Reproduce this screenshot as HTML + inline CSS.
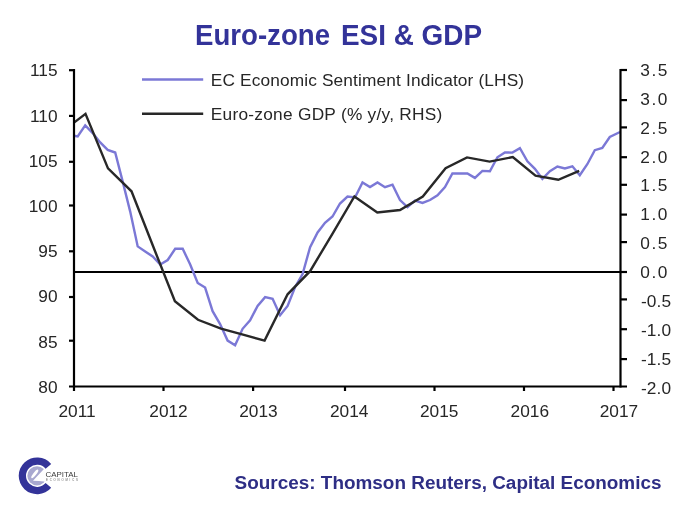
<!DOCTYPE html>
<html><head><meta charset="utf-8"><title>Euro-zone ESI &amp; GDP</title>
<style>
html,body{margin:0;padding:0;background:#fff;}
body{width:680px;height:510px;overflow:hidden;position:relative;}
svg{display:block;position:absolute;left:0;top:0;}
text{font-family:'Liberation Sans', Arial, sans-serif;}
.ax{font-size:17.3px;fill:#262626;}
</style></head><body>
<svg width="680" height="510" viewBox="0 0 680 510">
<text x="195" y="45.1" font-size="29" font-weight="bold" fill="#333399" textLength="135" lengthAdjust="spacingAndGlyphs">Euro-zone</text>
<text x="341" y="45.1" font-size="29" font-weight="bold" fill="#333399" textLength="141" lengthAdjust="spacingAndGlyphs">ESI &amp; GDP</text>
<text class="ax" x="57.6" y="76.4" text-anchor="end">115</text>
<text class="ax" x="57.6" y="121.6" text-anchor="end">110</text>
<text class="ax" x="57.6" y="166.8" text-anchor="end">105</text>
<text class="ax" x="57.6" y="212.0" text-anchor="end">100</text>
<text class="ax" x="57.6" y="257.1" text-anchor="end">95</text>
<text class="ax" x="57.6" y="302.3" text-anchor="end">90</text>
<text class="ax" x="57.6" y="347.5" text-anchor="end">85</text>
<text class="ax" x="57.6" y="392.7" text-anchor="end">80</text>
<text class="ax" x="640.2" y="76.4" textLength="27.2" lengthAdjust="spacing">3.5</text>
<text class="ax" x="640.2" y="105.2" textLength="27.2" lengthAdjust="spacing">3.0</text>
<text class="ax" x="640.2" y="133.9" textLength="27.2" lengthAdjust="spacing">2.5</text>
<text class="ax" x="640.2" y="162.7" textLength="27.2" lengthAdjust="spacing">2.0</text>
<text class="ax" x="640.2" y="191.4" textLength="27.2" lengthAdjust="spacing">1.5</text>
<text class="ax" x="640.2" y="220.2" textLength="27.2" lengthAdjust="spacing">1.0</text>
<text class="ax" x="640.2" y="248.9" textLength="27.2" lengthAdjust="spacing">0.5</text>
<text class="ax" x="640.2" y="277.7" textLength="27.2" lengthAdjust="spacing">0.0</text>
<text class="ax" x="641" y="307.3" textLength="30" lengthAdjust="spacing">-0.5</text>
<text class="ax" x="641" y="336.1" textLength="30" lengthAdjust="spacing">-1.0</text>
<text class="ax" x="641" y="364.8" textLength="30" lengthAdjust="spacing">-1.5</text>
<text class="ax" x="641" y="393.6" textLength="30" lengthAdjust="spacing">-2.0</text>
<text class="ax" x="77.0" y="416.9" text-anchor="middle">2011</text>
<text class="ax" x="168.5" y="416.9" text-anchor="middle">2012</text>
<text class="ax" x="258.4" y="416.9" text-anchor="middle">2013</text>
<text class="ax" x="349.2" y="416.9" text-anchor="middle">2014</text>
<text class="ax" x="439.2" y="416.9" text-anchor="middle">2015</text>
<text class="ax" x="529.8" y="416.9" text-anchor="middle">2016</text>
<text class="ax" x="618.9" y="416.9" text-anchor="middle">2017</text>
<line x1="142" y1="79.5" x2="203.2" y2="79.5" stroke="#7b78d6" stroke-width="2.4"/>
<line x1="142" y1="113.8" x2="203.2" y2="113.8" stroke="#282828" stroke-width="2.4"/>
<text class="ax" x="210.8" y="85.6" textLength="313.3" lengthAdjust="spacing">EC Economic Sentiment Indicator (LHS)</text>
<text class="ax" x="210.8" y="119.7" textLength="231.5" lengthAdjust="spacing">Euro-zone GDP (% y/y, RHS)</text>
<line x1="74" y1="272" x2="620.5" y2="272" stroke="#000" stroke-width="2.2"/>
<polyline points="74.0,135.8 77.7,136.5 85.2,125.4 92.7,133.1 100.2,142.4 107.7,149.9 115.2,152.5 122.7,181.6 130.2,211.6 137.7,246.4 145.2,251.5 152.7,256.5 160.2,264.5 167.7,260.0 175.2,248.8 182.7,248.8 190.2,264.5 197.7,282.9 205.1,287.6 212.6,311.2 220.1,324.1 227.6,340.6 235.1,345.3 242.6,328.8 250.1,320.3 257.6,305.9 265.1,297.1 272.6,298.8 280.1,315.3 287.6,305.9 295.1,287.0 302.6,274.0 310.1,247.1 317.6,232.5 325.0,222.8 332.5,216.5 340.0,203.5 347.5,196.5 355.0,197.5 362.5,182.4 370.0,187.1 377.5,182.4 385.0,187.2 392.5,184.7 400.0,200.0 407.5,207.1 415.0,200.6 422.5,202.9 430.0,200.0 437.5,195.3 445.0,187.1 452.4,173.5 459.9,173.5 467.4,173.5 474.9,177.9 482.4,170.9 489.9,171.2 497.4,157.3 504.9,152.4 512.4,152.6 519.9,148.2 527.4,161.3 534.9,168.8 542.4,178.8 549.9,171.2 557.4,166.5 564.9,168.5 572.4,166.3 579.8,175.2 587.3,164.2 594.8,150.2 602.3,148.0 609.8,137.0 620.0,132.0" fill="none" stroke="#7b78d6" stroke-width="2.4" stroke-linejoin="miter"/>
<polyline points="74.0,122.6 85.5,113.8 108.0,168.4 131.5,191.3 153.5,247.3 174.9,301.3 198.0,319.8 221.0,328.6 243.0,334.6 264.6,340.6 287.6,294.3 310.1,271.2 332.4,233.8 354.4,196.4 377.3,212.4 400.0,210.0 422.8,196.5 445.6,168.2 467.0,157.4 489.6,161.6 512.8,157.1 535.5,175.6 558.3,179.8 579.2,170.8" fill="none" stroke="#282828" stroke-width="2.4" stroke-linejoin="miter"/>
<g stroke="#000" stroke-width="2.2" fill="none">
<line x1="74" y1="69.1" x2="74" y2="391"/>
<line x1="620.5" y1="69.1" x2="620.5" y2="387.6"/>
<line x1="69" y1="386.5" x2="627" y2="386.5"/>
<line x1="69" y1="70.2" x2="74" y2="70.2"/>
<line x1="69" y1="115.9" x2="74" y2="115.9"/>
<line x1="69" y1="161.8" x2="74" y2="161.8"/>
<line x1="69" y1="205.5" x2="74" y2="205.5"/>
<line x1="69" y1="251.3" x2="74" y2="251.3"/>
<line x1="69" y1="297.0" x2="74" y2="297.0"/>
<line x1="69" y1="340.7" x2="74" y2="340.7"/>
<line x1="620.5" y1="70.0" x2="627" y2="70.0"/>
<line x1="620.5" y1="100.1" x2="627" y2="100.1"/>
<line x1="620.5" y1="127.4" x2="627" y2="127.4"/>
<line x1="620.5" y1="157.2" x2="627" y2="157.2"/>
<line x1="620.5" y1="184.8" x2="627" y2="184.8"/>
<line x1="620.5" y1="214.6" x2="627" y2="214.6"/>
<line x1="620.5" y1="242.1" x2="627" y2="242.1"/>
<line x1="620.5" y1="272.0" x2="627" y2="272.0"/>
<line x1="620.5" y1="299.4" x2="627" y2="299.4"/>
<line x1="620.5" y1="329.2" x2="627" y2="329.2"/>
<line x1="620.5" y1="359.1" x2="627" y2="359.1"/>
<line x1="163.5" y1="386.5" x2="163.5" y2="391"/>
<line x1="253.1" y1="386.5" x2="253.1" y2="391"/>
<line x1="345.0" y1="386.5" x2="345.0" y2="391"/>
<line x1="434.5" y1="386.5" x2="434.5" y2="391"/>
<line x1="524.0" y1="386.5" x2="524.0" y2="391"/>
<line x1="613.5" y1="386.5" x2="613.5" y2="391"/>
</g>
<g>
<circle cx="37" cy="475.8" r="9.65" fill="#a8a8d0"/>
<ellipse cx="34.8" cy="473.9" rx="5.3" ry="1.5" transform="rotate(-51.6 34.8 473.9)" fill="#fff"/>
<polygon points="33,480.8 46.5,466.2 53,466 53,484 44,481.6 39,481" fill="#fff"/>
<path d="M51.2,463.97 A18.4,18.4 0 1 0 51.2,487.63 L45.6,482.94 A11.1,11.1 0 1 1 45.6,468.66 Z" fill="#333399"/>
<text x="45.6" y="477.2" font-family="'Liberation Serif',serif" font-size="7.6" fill="#3a3a3a" textLength="32.3" lengthAdjust="spacingAndGlyphs">CAPITAL</text>
<text x="46" y="480.5" font-family="'Liberation Serif',serif" font-size="2.8" fill="#555" textLength="31.9" lengthAdjust="spacing">ECONOMICS</text>
</g>
<text x="234.6" y="488.8" font-size="18" font-weight="bold" fill="#2e2e85" textLength="426.9" lengthAdjust="spacingAndGlyphs">Sources: Thomson Reuters, Capital Economics</text>
</svg>
</body></html>
